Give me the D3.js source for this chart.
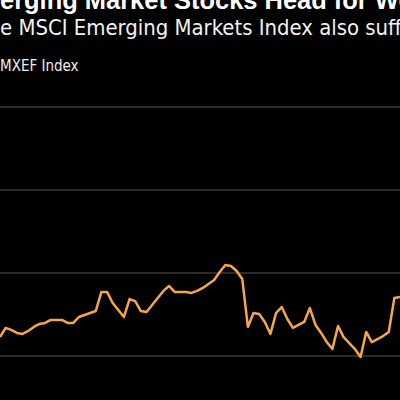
<!DOCTYPE html>
<html>
<head>
<meta charset="utf-8">
<script src="https://cdn.jsdelivr.net/npm/d3@7"></script>
<style>
  body { margin: 0; background: #000; }
  svg { display: block; background: #000; }
</style>
</head>
<body>
<svg id="chart" width="400" height="400"></svg>
<script>
// index level readings (arbitrary scale, grid every 50)
const days = d3.range(72);
const values = [
  961.4, 966.9, 965.7, 963.9, 963.3, 965.1, 967.5, 969.3, 969.9, 971.7, 971.7, 971.7,
  969.9, 969.9, 973.5, 974.7, 975.9, 977.1, 988.6, 988.6, 981.9, 977.7, 973.5, 984.3,
  983.1, 977.1, 976.5, 980.7, 984.9, 989.2, 992.2, 988.6, 988.6, 988.6, 988.0, 989.2,
  991.0, 993.4, 995.8, 1000.6, 1004.8, 1004.2, 1001.2, 996.4, 967.5, 975.9, 975.3, 970.5,
  963.3, 975.9, 979.5, 972.3, 966.9, 968.7, 970.5, 978.9, 968.7, 963.9, 958.4, 954.2,
  968.1, 961.4, 957.8, 954.2, 949.4, 964.5, 958.4, 960.2, 962.0, 964.5, 984.9, 985.5
];
const gridValues = [950, 1000, 1050, 1100];

const title = "Emerging Market Stocks Head for Worst Month";
const subtitle = "The MSCI Emerging Markets Index also suffered";
const legendLabel = "MXEF Index";

const svg = d3.select("#chart");
const width = 400;

const x = d3.scaleLinear().domain([0, days.length - 1]).range([0, width]);
const y = d3.scaleLinear().domain([950, 1100]).range([356, 107]);

// place a string so char startIdx sits at x0 and char endIdx at x1
function fit(el, startIdx, x0, endIdx, x1) {
  const node = el.node();
  let a = node.getSubStringLength(0, startIdx);
  let b = node.getSubStringLength(0, endIdx);
  const fs = parseFloat(el.attr("font-size")) * (x1 - x0) / (b - a);
  el.attr("font-size", fs);
  a = node.getSubStringLength(0, startIdx);
  el.attr("x", x0 - a);
}

const t1 = svg.append("text").attr("y", 9).attr("fill", "#fff")
  .attr("font-family", "Liberation Sans").attr("font-weight", "bold")
  .attr("font-size", 22).text(title);
fit(t1, 2, 0, title.indexOf("Worst"), 375);

const t2 = svg.append("text").attr("y", 35).attr("fill", "#f2f2f2")
  .attr("font-family", "DejaVu Sans Condensed, DejaVu Sans").attr("font-size", 19).text(subtitle);
fit(t2, 2, 0, subtitle.indexOf("suffered") + 4, 402);

svg.append("text").attr("x", 0).attr("y", 71).attr("fill", "#eee")
  .attr("font-family", "DejaVu Sans Condensed, DejaVu Sans").attr("font-size", 15).text(legendLabel);

svg.append("g").selectAll("line").data(gridValues).join("line")
  .attr("x1", 0).attr("x2", width)
  .attr("y1", d => y(d)).attr("y2", d => y(d))
  .attr("stroke", "#555").attr("stroke-width", 1.2);

svg.append("path").datum(values)
  .attr("fill", "none").attr("stroke", "#f5a742").attr("stroke-width", 2.5)
  .attr("stroke-linejoin", "round")
  .attr("d", d3.line().x((d, i) => x(days[i])).y(d => y(d)));
</script>
</body>
</html>
